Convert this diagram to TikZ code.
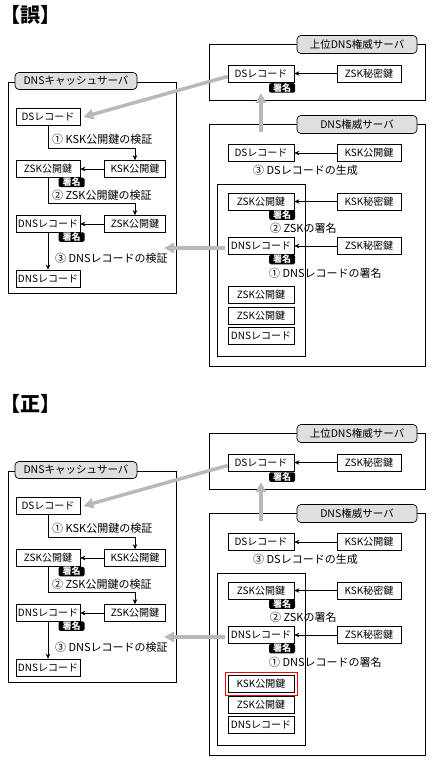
\documentclass[tikz,border=0pt]{standalone}
\usepackage{fontspec}
\setmainfont{Noto Sans CJK JP}
\usetikzlibrary{arrows.meta,fit}

\tikzset{
  box/.style={draw, fill=white, line width=0.7pt, minimum width=64pt, minimum height=17pt,
    inner sep=0pt, font=\fontsize{10}{11}\selectfont},
  srvbox/.style={draw, line width=0.7pt},
  srvlabel/.style={draw, fill=gray!25, rounded corners=4pt, line width=0.7pt,
    minimum width=120pt, minimum height=18pt, inner sep=0pt, font=\fontsize{10.5}{12}\selectfont},
  badge/.style={fill=black, text=white, rounded corners=1.5pt, inner sep=0pt,
    minimum width=26pt, minimum height=9.5pt, font=\fontsize{9}{9}\selectfont\bfseries},
  note/.style={anchor=west, inner sep=0pt, font=\fontsize{11}{12}\selectfont},
  flow/.style={line width=0.6pt, -{Stealth[length=5pt,width=4.5pt]}},
  signarrow/.style={draw=gray!55, line width=3.5pt, -{Triangle[length=10pt,width=10pt]}},
}

\begin{document}
\begin{tikzpicture}[x=1pt,y=-1pt]
    \useasboundingbox (0,0) rectangle (433,767);
    \foreach \off/\ttl/\key in {0/誤/ZSK,389/正/KSK}{
    \begin{scope}[yshift=-\off pt, name prefix=p\off-]
        \node (title) [anchor=west, inner sep=0pt, font=\fontsize{20}{22}\selectfont\bfseries] at (0,15) {【\ttl】};

        % upper authority server
        \draw[srvbox] (209,44) rectangle (425,100);
        \node (uplabel) [srvlabel] at (357,44.5) {上位DNS権威サーバ};
        \node (ds) [box, minimum width=66pt] at (261,73.5) {DSレコード};
        \node (zskpriv0) [box] at (369,73.5) {ZSK秘密鍵};
        \node (dsbadge) [badge] at (282,88) {署名};
        \draw[flow] (zskpriv0.west) -- (ds.east);

        % cache server
        \draw[srvbox] (8,82) rectangle (176,293);
        \node (cachelabel) [srvlabel, minimum width=122pt, minimum height=17pt] at (76,81) {DNSキャッシュサーバ};
        \node (cds) [box] at (48,117) {DSレコード};
        \node (czsk) [box] at (48,169) {ZSK公開鍵};
        \node (cksk) [box, minimum width=61pt] at (135,169) {KSK公開鍵};
        \node (czskbadge) [badge] at (71.5,182.5) {署名};
        \node (cdns) [box] at (48,224) {DNSレコード};
        \node (czsk2) [box, minimum width=61pt] at (135,224) {ZSK公開鍵};
        \node (cdnsbadge) [badge] at (71.5,237) {署名};
        \node (cdns2) [box] at (48,278.5) {DNSレコード};
        \node (v1) [note] at (52,139) {① KSK公開鍵の検証};
        \node (v2) [note] at (52,195) {② ZSK公開鍵の検証};
        \node (v3) [note] at (55,258) {③ DNSレコードの検証};
        \draw[flow] (cds.south) -- ++(0,22) -| (cksk.north);
        \draw[flow] (cksk.west) -- (czsk.east);
        \draw[flow] (czsk.south) -- ++(0,25.5) -| (czsk2.north);
        \draw[flow] (czsk2.west) -- (cdns.east);
        \draw[flow] (cdns.south) -- (cdns2.north);

        % authority server
        \draw[srvbox] (209,124) rectangle (425,366);
        \node (authlabel) [srvlabel] at (357,124.5) {DNS権威サーバ};
        \node (ads) [box, minimum width=66pt] at (261,153) {DSレコード};
        \node (aksk) [box] at (369,153) {KSK公開鍵};
        \node (g3) [note] at (253,170) {③ DSレコードの生成};
        \draw[flow] (aksk.west) -- (ads.east);
        \draw[srvbox] (217,184) rectangle (305,356);
        \node (azsk) [box, minimum width=66pt] at (261,201.5) {ZSK公開鍵};
        \node (kskpriv) [box] at (369,201.5) {KSK秘密鍵};
        \node (azskbadge) [badge] at (282,215) {署名};
        \node (g2) [note] at (270,228) {② ZSKの署名};
        \draw[flow] (kskpriv.west) -- (azsk.east);
        \node (adns) [box, minimum width=66pt] at (261,246) {DNSレコード};
        \node (zskpriv) [box] at (369,246) {ZSK秘密鍵};
        \node (adnsbadge) [badge] at (282,259.5) {署名};
        \node (g1) [note] at (269,273) {① DNSレコードの署名};
        \draw[flow] (zskpriv.west) -- (adns.east);
        \node (s1) [box, minimum width=66pt] at (261,294.5) {\key 公開鍵};
        \node (s2) [box, minimum width=66pt] at (261,315.5) {ZSK公開鍵};
        \node (s3) [box, minimum width=66pt] at (261,336) {DNSレコード};
        \ifnum\off>0
            \node (mark) [draw=red, line width=0.7pt, inner sep=2.5pt, fit=(s1)] {};
        \fi

        % signature flows
        \coordinate (vtip) at (164,248);
        \draw[signarrow] ([yshift=-3pt]ds.west) -- ([xshift=3pt]cds.east);
        \draw[signarrow] ([yshift=12pt]ads.north) -- (ads.north |- dsbadge.south);
        \draw[signarrow] ([xshift=-3pt,yshift=-2pt]adns.west) -- (vtip);
    \end{scope}
    }
\end{tikzpicture}
\end{document}
